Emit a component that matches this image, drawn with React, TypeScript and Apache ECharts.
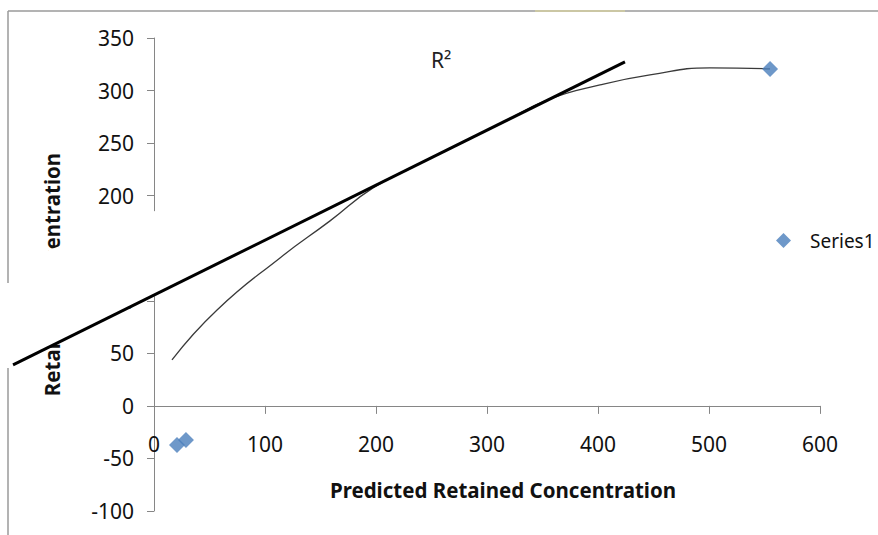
import React, { useEffect, useRef } from "react";
import * as echarts from "echarts";

// Observed points (Series1)
const observedPoints: [number, number][] = [
  [20.7, -37.1],
  [28.8, -32.4],
  [555, 320.6],
];

// Trend curve
const trendCurve: [number, number][] = [
  [16.2, 43.8],
  [56.8, 91.3],
  [113.5, 140.8],
  [158.6, 176.0],
  [197.3, 207.4],
  [239.6, 230.7],
  [275.7, 249.5],
  [311.7, 268.4],
  [356.8, 292.0],
  [401.8, 305.4],
  [446.8, 314.9],
  [500.9, 321.6],
  [555, 320.6],
];

// Straight fitted line (extends past the plot on the left): [x1, y1, x2, y2]
const fitLine: [number, number, number, number][] = [[-127, 39.0, 424.3, 327.3]];

const xRange = { min: 0, max: 600, interval: 100 };
const yRange = { min: -100, max: 350, interval: 50 };

const seriesName = "Series1";
const xTitle = "Predicted Retained Concentration";
const yTitle = "Retained Concentration";
const rSquaredLabel = "R²";

export default function App() {
  const ref = useRef<HTMLDivElement>(null);

  useEffect(() => {
    if (!ref.current) return;
    const chart = echarts.init(ref.current, undefined, { renderer: "svg" });
    const font = "Noto Sans";
    const axisColor = "#868686";
    const gridTop = 38;
    const gridBottom = 24;
    const plotHeight = 535 - gridTop - gridBottom;
    // put the x axis where y = 0 (labels and title follow it)
    const xAxisOffset = -((0 - yRange.min) / (yRange.max - yRange.min)) * plotHeight;

    chart.setOption({
      animation: false,
      backgroundColor: "#ffffff",
      textStyle: { fontFamily: font },
      grid: {
        left: 154,
        right: 58,
        top: gridTop,
        bottom: gridBottom,
        containLabel: false,
        outerBoundsMode: "none",
      },
      legend: {
        data: [seriesName],
        left: 771,
        top: 226,
        icon: "diamond",
        itemWidth: 15,
        itemHeight: 15,
        textStyle: { fontSize: 19, color: "#111", fontFamily: font, padding: [0, 0, 0, 14] },
      },
      xAxis: {
        type: "value",
        min: xRange.min,
        max: xRange.max,
        interval: xRange.interval,
        offset: xAxisOffset,
        splitLine: { show: false },
        axisLine: { onZero: false, lineStyle: { color: axisColor, width: 1 } },
        axisTick: { show: true, length: 8, lineStyle: { color: axisColor } },
        axisLabel: { margin: 28, fontSize: 21, color: "#111", fontFamily: font },
        name: xTitle,
        nameLocation: "middle",
        nameGap: 74,
        nameTextStyle: {
          fontSize: 20.5,
          fontWeight: "bold",
          color: "#111",
          fontFamily: font,
          padding: [0, 0, 0, 32],
        },
      },
      yAxis: {
        type: "value",
        min: yRange.min,
        max: yRange.max,
        interval: yRange.interval,
        splitLine: { show: false },
        axisLine: { show: true, onZero: false, lineStyle: { color: axisColor, width: 1 } },
        axisTick: { show: true, length: 7, lineStyle: { color: axisColor } },
        axisLabel: { margin: 20, fontSize: 21, color: "#111", fontFamily: font },
        name: yTitle,
        nameLocation: "middle",
        nameGap: 92,
        nameTextStyle: { fontSize: 20.5, fontWeight: "bold", color: "#111", fontFamily: font },
      },
      series: [
        {
          type: "line",
          name: "trend",
          data: trendCurve,
          smooth: 0.5,
          showSymbol: false,
          symbol: "none",
          silent: true,
          lineStyle: { color: "#3a3a3a", width: 1.3 },
          z: 3,
        },
        {
          type: "scatter",
          name: seriesName,
          data: observedPoints,
          symbol: "diamond",
          symbolSize: 16,
          itemStyle: { color: "#4a7ebb" },
          z: 5,
        },
        {
          type: "custom",
          name: "fit",
          data: fitLine,
          clip: false,
          silent: true,
          encode: { x: [0, 2], y: [1, 3] },
          z: 200,
          renderItem: (params: any, api: any) => {
            const p1 = api.coord([api.value(0), api.value(1)]);
            const p2 = api.coord([api.value(2), api.value(3)]);
            return {
              type: "line",
              z2: 100,
              shape: { x1: p1[0], y1: p1[1], x2: p2[0], y2: p2[1] },
              style: { stroke: "#000000", lineWidth: 3, lineCap: "butt" },
            };
          },
        },
      ],
      graphic: [
        {
          type: "polygon",
          z: 100,
          silent: true,
          shape: { points: [[0, 268], [163, 208], [163, 292], [0, 372]] },
          style: { fill: "#ffffff" },
        },
        {
          type: "line",
          z: 150,
          silent: true,
          shape: { x1: 8, y1: 11, x2: 878, y2: 11 },
          style: { stroke: "#9a9a9a", lineWidth: 1.5 },
        },
        {
          type: "line",
          z: 151,
          silent: true,
          shape: { x1: 535, y1: 11, x2: 625, y2: 11 },
          style: { stroke: "#cbc7a4", lineWidth: 2 },
        },
        {
          type: "line",
          z: 150,
          silent: true,
          shape: { x1: 8, y1: 11, x2: 8, y2: 283 },
          style: { stroke: "#9a9a9a", lineWidth: 1.5 },
        },
        {
          type: "line",
          z: 150,
          silent: true,
          shape: { x1: 8, y1: 368, x2: 8, y2: 535 },
          style: { stroke: "#9a9a9a", lineWidth: 1.5 },
        },
        {
          type: "text",
          z: 150,
          silent: true,
          x: 431,
          y: 49,
          style: { text: rSquaredLabel, fontSize: 21, fill: "#222", fontFamily: font },
        },
      ],
    });
    return () => chart.dispose();
  }, []);

  return (
    <div
      ref={ref}
      style={{ position: "absolute", left: 0, top: 0, width: 878, height: 535 }}
    />
  );
}
